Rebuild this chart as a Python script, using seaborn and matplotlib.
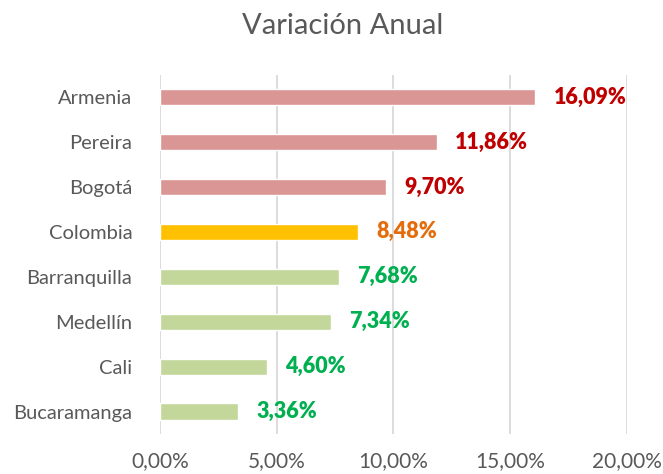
import matplotlib

matplotlib.use("Agg")

import matplotlib.pyplot as plt
import pandas as pd
import seaborn as sns
from matplotlib.ticker import FuncFormatter

cities = ["Armenia", "Pereira", "Bogotá", "Colombia", "Barranquilla",
          "Medellín", "Cali", "Bucaramanga"]
variation = [16.09, 11.86, 9.70, 8.48, 7.68, 7.34, 4.60, 3.36]
bar_colors = ["#DA9694", "#DA9694", "#DA9694", "#FFC000",
              "#C4D79B", "#C4D79B", "#C4D79B", "#C4D79B"]
label_colors = ["#C00000", "#C00000", "#C00000", "#E46C0A",
                "#00B050", "#00B050", "#00B050", "#00B050"]
x_ticks = [0, 5, 10, 15, 20]

sns.set_theme(style="white")
plt.rcParams["font.family"] = ["Lato", "DejaVu Sans"]

df = pd.DataFrame({"ciudad": cities, "var": variation})

fig = plt.figure(figsize=(6.63, 4.74), dpi=100)
ax = fig.add_axes([0.2413, 0.0844, 0.704, 0.758])

sns.barplot(data=df, x="var", y="ciudad", hue="ciudad", palette=bar_colors,
            width=0.36, legend=False, ax=ax, saturation=1)

for cont, col in zip(ax.containers, label_colors):
    ax.bar_label(cont, labels=[f"{v:.2f}%".replace(".", ",") for v in cont.datavalues],
                 padding=13, color=col, fontsize=15.5, fontweight="heavy")

ax.set_xlim(0, 20)
ax.set_ylim(7.5, -0.5)
ax.set_xticks(x_ticks)
ax.xaxis.set_major_formatter(FuncFormatter(lambda v, _: f"{v:.2f}%".replace(".", ",")))
ax.grid(axis="x", color="#D9D9D9", linewidth=1.3)
ax.set_axisbelow(True)
for s in ax.spines.values():
    s.set_visible(False)
ax.tick_params(axis="x", length=0, pad=12, labelsize=15, labelcolor="#595959")
ax.tick_params(axis="y", length=0, pad=20, labelsize=14.5, labelcolor="#595959")
ax.set_xlabel("")
ax.set_ylabel("")
fig.text(0.517, 0.945, "Variación Anual", ha="center", va="center",
         fontsize=21, color="#595959")

fig.savefig("out.png", dpi=100)
